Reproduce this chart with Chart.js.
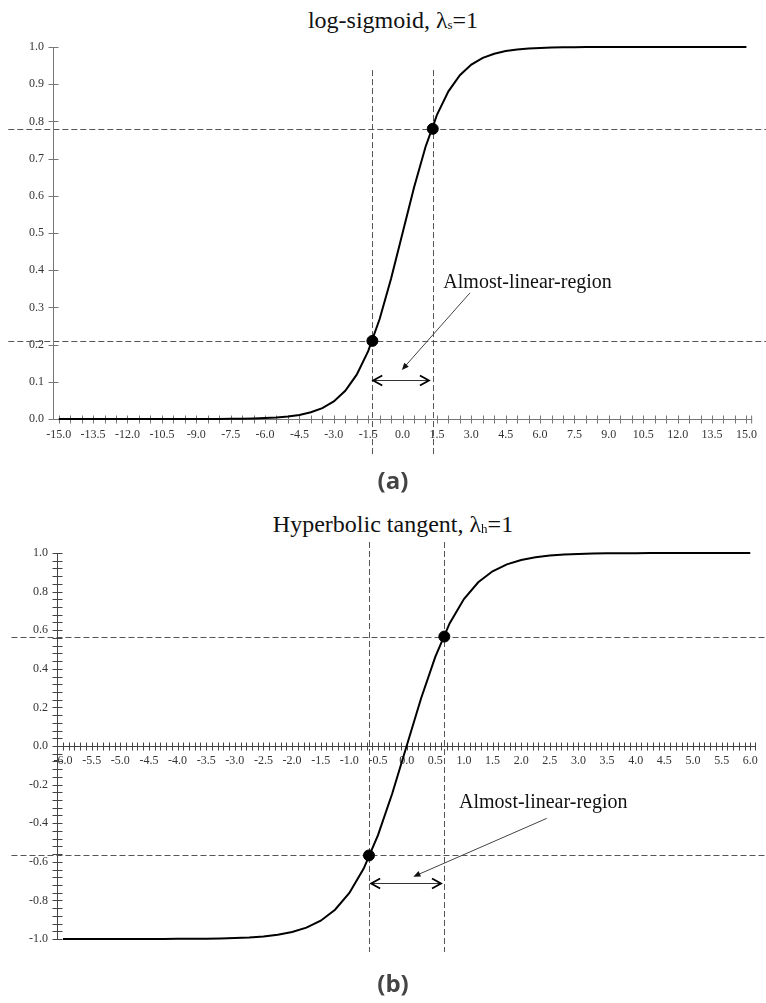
<!DOCTYPE html>
<html>
<head>
<meta charset="utf-8">
<script src="https://cdn.jsdelivr.net/npm/chart.js@4.4.1/dist/chart.umd.min.js"></script>
<style>
  body { margin: 0; background: #fff; width: 766px; height: 1003px; position: relative; overflow: hidden; }
  .title { position: absolute; left: 10px; width: 766px; text-align: center; font: 24px/24px "Liberation Serif", serif; color: #111; }
  .title sub { font-size: 13px; vertical-align: baseline; position: relative; top: 1px; }
  .tag { position: absolute; left: 10px; width: 766px; text-align: center; font: bold 24px/24px "Open Sans", sans-serif; color: #444; }
  .wrap { position: absolute; left: 0; width: 766px; height: 470px; }
</style>
</head>
<body>
<div class="title" style="top:8px">log-sigmoid, λ<sub>s</sub>=1</div>
<div class="wrap" style="top:0"><canvas id="sigChart" width="766" height="470"></canvas></div>
<div class="tag" style="top:468px">(a)</div>

<div class="title" style="top:512px">Hyperbolic tangent, λ<sub>h</sub>=1</div>
<div class="wrap" style="top:500px"><canvas id="tanhChart" width="766" height="470"></canvas></div>
<div class="tag" style="top:971px">(b)</div>

<script>
// log-sigmoid curve (a)
const sigX = [-15,-14.5,-14,-13.5,-13,-12.5,-12,-11.5,-11,-10.5,-10,-9.5,-9,-8.5,-8,-7.5,-7,-6.5,-6,-5.5,-5,-4.5,-4,-3.5,-3,-2.5,-2,-1.5,-1,-0.5,0,0.5,1,1.5,2,2.5,3,3.5,4,4.5,5,5.5,6,6.5,7,7.5,8,8.5,9,9.5,10,10.5,11,11.5,12,12.5,13,13.5,14,14.5,15];
const sigY = [0,0,0,0,0,0,0,0,0,0,0,0.0001,0.0001,0.0002,0.0003,0.0006,0.0009,0.0015,0.0025,0.0041,0.0067,0.011,0.018,0.0293,0.0474,0.0759,0.1192,0.1824,0.2689,0.3775,0.5,0.6225,0.7311,0.8176,0.8808,0.9241,0.9526,0.9707,0.982,0.989,0.9933,0.9959,0.9975,0.9985,0.9991,0.9994,0.9997,0.9998,0.9999,0.9999,1,1,1,1,1,1,1,1,1,1,1];
const sigDotX = [-1.317, 1.317];
const sigDotY = [0.21, 0.78];
const sigXTicks = [-15,-13.5,-12,-10.5,-9,-7.5,-6,-4.5,-3,-1.5,0,1.5,3,4.5,6,7.5,9,10.5,12,13.5,15];
const sigYTicks = [0,0.1,0.2,0.3,0.4,0.5,0.6,0.7,0.8,0.9,1];

// hyperbolic tangent curve (b)
const tanhX = [-6,-5.75,-5.5,-5.25,-5,-4.75,-4.5,-4.25,-4,-3.75,-3.5,-3.25,-3,-2.75,-2.5,-2.25,-2,-1.75,-1.5,-1.25,-1,-0.75,-0.5,-0.25,0,0.25,0.5,0.75,1,1.25,1.5,1.75,2,2.25,2.5,2.75,3,3.25,3.5,3.75,4,4.25,4.5,4.75,5,5.25,5.5,5.75,6];
const tanhY = [-1,-1,-1,-1,-0.9999,-0.9999,-0.9998,-0.9996,-0.9993,-0.9989,-0.9982,-0.997,-0.9951,-0.9918,-0.9866,-0.978,-0.964,-0.9414,-0.9051,-0.8483,-0.7616,-0.6351,-0.4621,-0.2449,0,0.2449,0.4621,0.6351,0.7616,0.8483,0.9051,0.9414,0.964,0.978,0.9866,0.9918,0.9951,0.997,0.9982,0.9989,0.9993,0.9996,0.9998,0.9999,0.9999,1,1,1,1];
const tanhDotX = [-0.658, 0.658];
const tanhDotY = [-0.567, 0.567];
const tanhXTicks = [-6,-5.5,-5,-4.5,-4,-3.5,-3,-2.5,-2,-1.5,-1,-0.5,0,0.5,1,1.5,2,2.5,3,3.5,4,4.5,5,5.5,6];
const tanhYTicks = [-1,-0.8,-0.6,-0.4,-0.2,0,0.2,0.4,0.6,0.8,1];

const LABEL = 'Almost-linear-region';

// draws axes with crossing ticks, dashed guides, arrows and the label
function makeOverlay(o) {
  function line(ctx, x1, y1, x2, y2) {
    ctx.beginPath(); ctx.moveTo(x1, y1); ctx.lineTo(x2, y2); ctx.stroke();
  }
  function ticks(from, to, step) {
    const n = Math.round((to - from) / step);
    const out = [];
    for (let i = 0; i <= n; i++) out.push(from + i * step);
    return out;
  }
  function chevron(ctx, tx, ty, dir) {
    ctx.beginPath();
    ctx.moveTo(tx - dir * 9, ty - 5);
    ctx.lineTo(tx, ty);
    ctx.lineTo(tx - dir * 9, ty + 5);
    ctx.stroke();
  }
  return {
    id: 'overlay',
    beforeDatasetsDraw(chart) {
      const { ctx, chartArea, scales: { x, y } } = chart;
      ctx.save();
      ctx.lineWidth = 1;

      // dashed guide lines through the almost-linear region
      ctx.strokeStyle = '#555';
      ctx.setLineDash([6, 3]);
      o.guideY.forEach(v => {
        const py = Math.round(y.getPixelForValue(v)) + 0.5;
        line(ctx, x.getPixelForValue(o.hSpan[0]), py, x.getPixelForValue(o.hSpan[1]), py);
      });
      o.guideX.forEach(v => {
        const px = Math.round(x.getPixelForValue(v)) + 0.5;
        line(ctx, px, y.getPixelForValue(o.vSpan[0]), px, y.getPixelForValue(o.vSpan[1]));
      });
      ctx.setLineDash([]);

      // axes
      ctx.strokeStyle = o.axisColor;
      const ax = Math.round(chartArea.left) + 0.5;
      const ay = Math.round(y.getPixelForValue(o.xAxisAt)) + 0.5;
      line(ctx, ax, chartArea.top, ax, chartArea.bottom);
      line(ctx, ax, ay, chartArea.right, ay);
      ticks(o.xTickFrom, o.xTickTo, o.xMinor).forEach(v => {
        const px = Math.round(x.getPixelForValue(v)) + 0.5;
        line(ctx, px, ay - 4, px, ay + 4);
      });
      line(ctx, chartArea.right - 0.5, ay - 4, chartArea.right - 0.5, ay + 4);
      ticks(o.yTickFrom, o.yTickTo, o.yMinor).forEach(v => {
        const py = Math.round(y.getPixelForValue(v)) + 0.5;
        line(ctx, ax - 5, py, ax + 5, py);
      });
      ctx.restore();
    },
    afterDatasetsDraw(chart) {
      const { ctx, scales: { x, y } } = chart;
      ctx.save();

      // double headed arrow
      const ay = Math.round(y.getPixelForValue(o.arrowY)) + 0.5;
      const a1 = x.getPixelForValue(o.arrowX[0]);
      const a2 = x.getPixelForValue(o.arrowX[1]);
      ctx.strokeStyle = '#333';
      ctx.lineWidth = 1;
      line(ctx, a1, ay, a2, ay);
      ctx.strokeStyle = '#000';
      ctx.lineWidth = 1.8;
      chevron(ctx, a1, ay, -1);
      chevron(ctx, a2, ay, 1);

      // pointer from the label
      const p1x = x.getPixelForValue(o.pointFrom[0]);
      const p1y = y.getPixelForValue(o.pointFrom[1]);
      const p2x = x.getPixelForValue(o.pointTo[0]);
      const p2y = y.getPixelForValue(o.pointTo[1]);
      const ang = Math.atan2(p2y - p1y, p2x - p1x);
      ctx.strokeStyle = '#444';
      ctx.fillStyle = '#111';
      ctx.lineWidth = 1;
      line(ctx, p1x, p1y, p2x - 6 * Math.cos(ang), p2y - 6 * Math.sin(ang));
      ctx.beginPath();
      ctx.moveTo(p2x, p2y);
      ctx.lineTo(p2x - 7 * Math.cos(ang) + 3 * Math.sin(ang), p2y - 7 * Math.sin(ang) - 3 * Math.cos(ang));
      ctx.lineTo(p2x - 7 * Math.cos(ang) - 3 * Math.sin(ang), p2y - 7 * Math.sin(ang) + 3 * Math.cos(ang));
      ctx.closePath();
      ctx.fill();

      // label
      ctx.fillStyle = '#111';
      ctx.font = '20px "Liberation Serif", serif';
      ctx.textAlign = 'left';
      ctx.textBaseline = 'alphabetic';
      ctx.fillText(LABEL, x.getPixelForValue(o.labelAt[0]), y.getPixelForValue(o.labelAt[1]));
      ctx.restore();
    }
  };
}

function tickFont() {
  return { family: '"Liberation Serif", serif', size: 12 };
}

function buildChart(id, cfg) {
  const curve = cfg.xs.map((v, i) => ({ x: v, y: cfg.ys[i] }));
  const dots = cfg.dotX.map((v, i) => ({ x: v, y: cfg.dotY[i] }));
  return new Chart(document.getElementById(id), {
    type: 'scatter',
    data: {
      datasets: [
        { data: curve, showLine: true, borderColor: '#000', borderWidth: 2, pointRadius: 0, tension: 0, clip: false },
        { data: dots, pointRadius: 5.5, backgroundColor: '#000', borderColor: '#000', clip: false }
      ]
    },
    options: {
      responsive: false,
      animation: false,
      events: [],
      layout: { padding: cfg.padding },
      plugins: { legend: { display: false }, tooltip: { enabled: false } },
      scales: {
        x: {
          type: 'linear',
          position: cfg.xPosition,
          min: cfg.xRange[0],
          max: cfg.xRange[1],
          afterBuildTicks: s => { s.ticks = cfg.xTicks.map(v => ({ value: v })); },
          afterFit: s => { s.height = cfg.xHeight; },
          grid: { display: false, drawTicks: false },
          border: { display: false },
          ticks: { padding: cfg.xPad, color: '#333', font: tickFont(), maxRotation: 0, autoSkip: false, callback: v => v.toFixed(1) }
        },
        y: {
          type: 'linear',
          min: cfg.yRange[0],
          max: cfg.yRange[1],
          afterBuildTicks: s => { s.ticks = cfg.yTicks.map(v => ({ value: v })); },
          afterFit: s => { s.width = cfg.yWidth; },
          grid: { display: false, drawTicks: false },
          border: { display: false },
          ticks: { padding: 9, color: '#333', font: tickFont(), autoSkip: false, callback: v => v.toFixed(1) }
        }
      }
    },
    plugins: [makeOverlay(cfg.overlay)]
  });
}

buildChart('sigChart', {
  xs: sigX, ys: sigY, dotX: sigDotX, dotY: sigDotY,
  xTicks: sigXTicks, yTicks: sigYTicks,
  xRange: [-15.25, 15.25], yRange: [0, 1],
  xPosition: 'bottom', xHeight: 51, xPad: 9, yWidth: 53,
  padding: { top: 47, right: 11, left: 0, bottom: 0 },
  overlay: {
    axisColor: '#777', xAxisAt: 0,
    xTickFrom: -15, xTickTo: 15, xMinor: 0.5,
    yTickFrom: 0, yTickTo: 1, yMinor: 0.1,
    guideX: sigDotX, guideY: sigDotY,
    hSpan: [-17.2, 18], vSpan: [0.938, -0.1],
    arrowY: 0.105, arrowX: [-1.28, 1.15],
    pointFrom: [2.94, 0.339], pointTo: [-0.03, 0.132],
    labelAt: [1.78, 0.352]
  }
});

buildChart('tanhChart', {
  xs: tanhX, ys: tanhY, dotX: tanhDotX, dotY: tanhDotY,
  xTicks: tanhXTicks, yTicks: tanhYTicks,
  xRange: [-6.105, 6.1], yRange: [-1, 1],
  xPosition: { y: 0 }, xHeight: 0, xPad: 8, yWidth: 57,
  padding: { top: 53, right: 10, left: 0, bottom: 31 },
  overlay: {
    axisColor: '#444', xAxisAt: 0,
    xTickFrom: -6, xTickTo: 6, xMinor: 0.1,
    yTickFrom: -1, yTickTo: 1, yMinor: 0.04,
    guideX: tanhDotX, guideY: tanhDotY,
    hSpan: [-6.9, 6.5], vSpan: [1.057, -1.067],
    arrowY: -0.71, arrowX: [-0.62, 0.6],
    pointFrom: [2.446, -0.375], pointTo: [0.117, -0.677],
    labelAt: [0.915, -0.321]
  }
});
</script>
</body>
</html>
